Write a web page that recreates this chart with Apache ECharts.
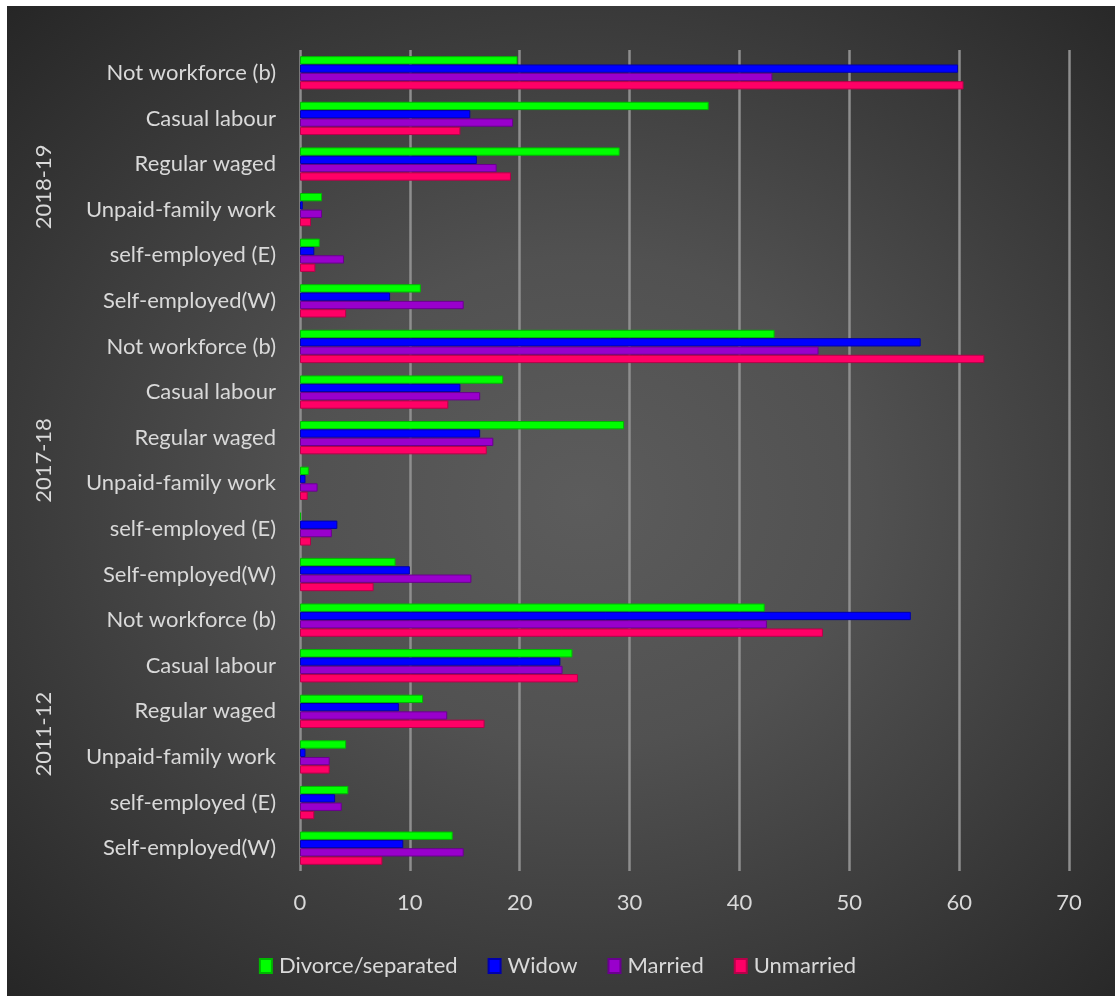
<!DOCTYPE html>
<html>
<head>
<meta charset="utf-8">
<script src="https://cdn.jsdelivr.net/npm/echarts@6/dist/echarts.min.js"></script>
<style>
html,body{margin:0;padding:0;background:#ffffff;}
#wrap{position:absolute;left:7px;top:6px;width:1108px;height:990px;
 background:radial-gradient(ellipse farthest-corner at 52% 50%, #5c5c5c 0%, #515151 35%, #262626 100%);}
#chart{position:absolute;left:-7px;top:-6px;width:1115px;height:996px;}
</style>
</head>
<body>
<div id="wrap"><div id="chart"></div></div>
<script>
// categories listed bottom to top
const categories = [
  'Self-employed(W)','self-employed (E)','Unpaid-family work','Regular waged','Casual labour','Not workforce (b)',
  'Self-employed(W)','self-employed (E)','Unpaid-family work','Regular waged','Casual labour','Not workforce (b)',
  'Self-employed(W)','self-employed (E)','Unpaid-family work','Regular waged','Casual labour','Not workforce (b)'
];
const groups = ['2011-12','2017-18','2018-19'];
const xTicks = [0,10,20,30,40,50,60,70];

// 2011-12 block, 2017-18 block, 2018-19 block (each bottom to top)
const divorced = [13.9,4.4,4.2,11.2,24.8,42.3,  8.7,0.1,0.8,29.5,18.5,43.2,  11.0,1.8,2.0,29.1,37.2,19.8];
const widow    = [9.4,3.2,0.5,9.0,23.7,55.6,   10.0,3.4,0.5,16.4,14.6,56.5,  8.2,1.3,0.25,16.1,15.5,59.9];
const married  = [14.9,3.8,2.7,13.4,23.9,42.5, 15.6,2.9,1.6,17.6,16.4,47.2,  14.9,4.0,2.0,17.9,19.4,43.0];
const unmarried= [7.5,1.3,2.7,16.8,25.3,47.6,  6.7,1.0,0.7,17.0,13.5,62.3,   4.2,1.4,1.0,19.2,14.6,60.4];

const FONT = 'Lato';
const TXT = '#d9d9d9';
const FS = 22;

const chart = echarts.init(document.getElementById('chart'), null, {renderer:'canvas'});
function bar(name, data, color, border){
  return {
    name, type:'bar', data, yAxisIndex:0,
    barGap:'0%', barCategoryGap:'27%',
    itemStyle:{color, borderColor:border, borderWidth:1},
    emphasis:{disabled:true}
  };
}
chart.setOption({
  backgroundColor:'transparent',
  animation:false,
  textStyle:{fontFamily:FONT},
  grid:{left:300, right:46, top:50, bottom:125, containLabel:false},
  xAxis:{
    type:'value', min:0, max:70, interval:10,
    axisLine:{show:false}, axisTick:{show:false},
    splitLine:{show:true, lineStyle:{color:'#8e8e8e', width:2.5}},
    axisLabel:{color:TXT, fontSize:FS, fontFamily:FONT, margin:21,
      formatter:function(v){return xTicks.indexOf(v)>=0?String(v):'';}}
  },
  yAxis:[{
    type:'category', data:categories, gridIndex:0,
    axisLine:{show:false}, axisTick:{show:false},
    axisLabel:{color:TXT, fontSize:FS, fontFamily:FONT, margin:24}
  },{
    type:'category', data:groups, gridIndex:0, position:'left',
    axisLine:{show:false}, axisTick:{show:false}, splitLine:{show:false},
    axisLabel:{color:TXT, fontSize:FS, fontFamily:FONT, rotate:90, margin:245}
  }],
  legend:{
    data:['Divorce/separated','Widow','Married','Unmarried'],
    top:950, left:'center',
    itemWidth:12, itemHeight:14, itemGap:30,
    icon:'rect',
    textStyle:{color:TXT, fontSize:FS, fontFamily:FONT, padding:[0,0,0,2]}
  },
  series:[
    bar('Divorce/separated', divorced, '#00ff00', '#00b800'),
    bar('Widow', widow, '#0000ff', '#0000aa'),
    bar('Married', married, '#9900cc', '#6a008f'),
    bar('Unmarried', unmarried, '#ff0066', '#b8004a')
  ]
});
</script>
</body>
</html>
